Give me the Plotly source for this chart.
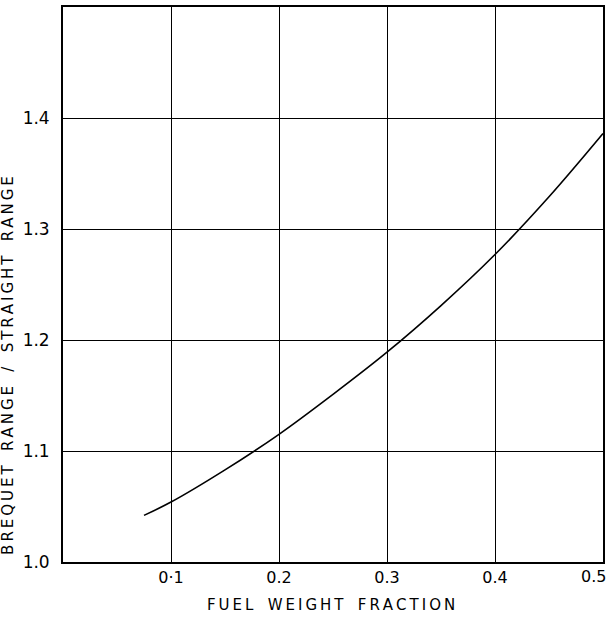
import plotly.graph_objects as go

fuel_fraction = [0.075, 0.10, 0.15, 0.20, 0.25, 0.30, 0.35, 0.40, 0.45, 0.50]
range_ratio = [1.042, 1.054, 1.083, 1.115, 1.151, 1.189, 1.231, 1.277, 1.329, 1.386]

x_ticks = [0.1, 0.2, 0.3, 0.4, 0.5]
x_tick_labels = ["0·1", "0.2", "0.3", "0.4", "0.5"]
y_ticks = [1.0, 1.1, 1.2, 1.3, 1.4]
y_tick_labels = ["1.0", "1.1", "1.2", "1.3", "1.4"]

FONT = "DejaVu Sans"
TS = "\u2009"


def spaced(s, gap="  "):
    return gap.join(TS.join(w) for w in s.split(" "))


fig = go.Figure()
fig.add_trace(go.Scatter(x=fuel_fraction, y=range_ratio, mode="lines",
                         line=dict(color="black", width=1.6, shape="spline"),
                         hoverinfo="skip", showlegend=False))

# last x tick label sits at the right edge; draw it as an annotation so it stays inside
axis_ticktext = x_tick_labels[:-1] + [""]

fig.update_layout(
    width=609, height=619,
    margin=dict(l=63, r=6, t=7, b=57),
    paper_bgcolor="white", plot_bgcolor="white",
    font=dict(family=FONT, color="black", size=16),
    xaxis=dict(range=[0, 0.5], tickvals=x_ticks, ticktext=axis_ticktext,
               showgrid=True, gridcolor="black", gridwidth=1.3,
               showline=True, linecolor="black", linewidth=1.8, mirror=True,
               ticks="", zeroline=False, tickfont=dict(size=16),
               automargin=False),
    yaxis=dict(range=[1.0, 1.5], tickvals=y_ticks, ticktext=y_tick_labels,
               showgrid=True, gridcolor="black", gridwidth=1.3,
               showline=True, linecolor="black", linewidth=1.8, mirror=True,
               ticks="", zeroline=False, tickfont=dict(size=17),
               ticklabelstandoff=8, automargin=False),
    annotations=[
        dict(text=x_tick_labels[-1], xref="x", yref="paper", x=x_ticks[-1], y=-0.027,
             xanchor="right", yanchor="middle", xshift=5, showarrow=False,
             font=dict(size=16, family=FONT)),
        dict(text=spaced("FUEL WEIGHT FRACTION", "   "), xref="paper", yref="paper",
             x=0.497, y=-0.078, xanchor="center", yanchor="middle", showarrow=False,
             font=dict(size=15, family=FONT)),
        dict(text=spaced("BREQUET RANGE / STRAIGHT RANGE", "   "),
             xref="paper", yref="paper", x=-0.102, y=0.355, textangle=-90,
             xanchor="center", yanchor="middle", showarrow=False,
             font=dict(size=15, family=FONT)),
    ],
)

fig.write_html("out.html")
